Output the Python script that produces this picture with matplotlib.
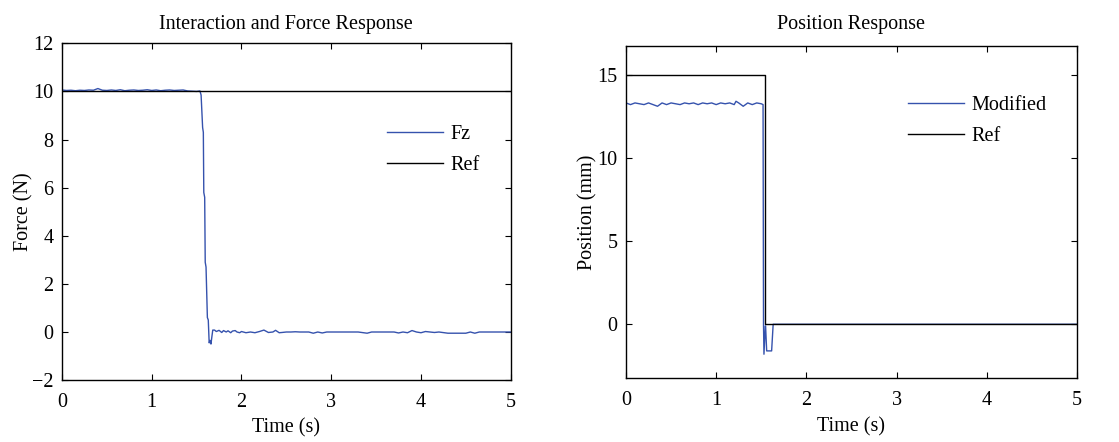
"""Force and position response plots (two panels)."""
import matplotlib
matplotlib.use("Agg")
import matplotlib.pyplot as plt
import numpy as np

plt.rcParams["font.family"] = ["Liberation Serif", "DejaVu Serif"]

C_BLUE = "#3552ad"
FS = 14.5

# ---- data: force panel ----
fz_t = [0.00, 0.05, 0.10, 0.15, 0.20, 0.25, 0.30, 0.35, 0.40, 0.45, 0.50,
        0.55, 0.60, 0.65, 0.70, 0.75, 0.80, 0.85, 0.90, 0.95, 1.00, 1.05,
        1.10, 1.15, 1.20, 1.25, 1.30, 1.35, 1.40, 1.45, 1.50, 1.537,
        1.55, 1.567, 1.575, 1.58, 1.59, 1.596, 1.605, 1.62, 1.63, 1.64,
        1.65, 1.66, 1.67, 1.68, 1.70, 1.72, 1.75, 1.78, 1.80, 1.83, 1.85,
        1.88, 1.90, 1.93, 1.95, 1.98, 2.00, 2.05, 2.10, 2.15, 2.20, 2.25,
        2.30, 2.35, 2.38, 2.42, 2.45, 2.50, 2.55, 2.60, 2.65, 2.70, 2.75,
        2.80, 2.85, 2.90, 2.95, 3.00, 3.10, 3.20, 3.30, 3.40, 3.45, 3.50,
        3.60, 3.70, 3.75, 3.80, 3.85, 3.90, 3.95, 4.00, 4.05, 4.10, 4.15,
        4.20, 4.30, 4.40, 4.50, 4.55, 4.60, 4.65, 4.70, 4.80, 4.90, 5.00]
fz_v = [10.06, 10.04, 10.05, 10.03, 10.05, 10.04, 10.06, 10.05, 10.12, 10.05,
        10.04, 10.06, 10.04, 10.07, 10.03, 10.05, 10.06, 10.04, 10.05, 10.07,
        10.04, 10.06, 10.03, 10.05, 10.06, 10.04, 10.05, 10.06, 10.02, 10.01,
        10.00, 10.02, 9.85, 8.5, 8.3, 5.8, 5.6, 2.9, 2.7, 0.6, 0.5, -0.45,
        -0.35, -0.5, -0.2, 0.08, 0.08, 0.02, 0.07, -0.02, 0.06, 0.0, 0.05,
        -0.03, 0.04, 0.06, 0.0, -0.03, 0.02, -0.03, 0.0, -0.03, 0.02, 0.08,
        -0.02, 0.0, 0.07, -0.03, -0.02, 0.0, 0.0, 0.01, 0.0, 0.0, 0.0,
        -0.05, 0.0, -0.04, 0.0, 0.0, 0.0, 0.0, 0.0, -0.05, 0.0, 0.0, 0.0,
        0.0, -0.04, 0.0, -0.03, 0.06, 0.0, -0.03, 0.02, 0.0, -0.02, 0.0,
        -0.05, -0.05, -0.05, 0.0, -0.05, 0.0, 0.0, 0.0, 0.0, 0.0]
fref_t = [0.0, 5.0]
fref_v = [10.0, 10.0]

# ---- data: position panel ----
pos_t = [0.00, 0.05, 0.10, 0.15, 0.20, 0.25, 0.30, 0.35, 0.40, 0.45, 0.50,
         0.55, 0.60, 0.65, 0.70, 0.75, 0.80, 0.85, 0.90, 0.95, 1.00, 1.05,
         1.10, 1.15, 1.20, 1.22, 1.25, 1.30, 1.35, 1.40, 1.45, 1.50, 1.52,
         1.525, 1.530, 1.545, 1.548, 1.560, 1.615, 1.632, 1.65, 5.00]
pos_v = [13.3, 13.2, 13.3, 13.25, 13.2, 13.3, 13.2, 13.1, 13.3, 13.2, 13.3,
         13.25, 13.2, 13.3, 13.25, 13.3, 13.2, 13.3, 13.25, 13.3, 13.2, 13.3,
         13.25, 13.3, 13.2, 13.4, 13.3, 13.1, 13.3, 13.2, 13.3, 13.25, 13.2,
         0.0, -1.8, -0.1, -0.1, -1.6, -1.6, 0.0, 0.0, 0.0]
pref_t = [0.0, 1.538, 1.538, 5.0]
pref_v = [15.0, 15.0, 0.0, 0.0]


def style_axes(ax):
    ax.tick_params(direction="in", top=True, right=True, length=4,
                   labelsize=FS, width=0.8, pad=9)
    for s in ax.spines.values():
        s.set_linewidth(1.0)


def legend(ax, x, y):
    ax.legend(loc="upper left", bbox_to_anchor=(x, y), frameon=False,
              fontsize=FS, handlelength=2.8, handletextpad=0.35,
              labelspacing=0.6, borderpad=0, borderaxespad=0)


fig = plt.figure(figsize=(11.19, 4.42), dpi=100)

# left panel
ax1 = fig.add_axes([0.0554, 0.140, 0.401, 0.762])
ax1.plot(fz_t, fz_v, color=C_BLUE, lw=1.0, label="Fz")
ax1.plot(fref_t, fref_v, color="black", lw=1.0, label="Ref")
ax1.set_xlim(0, 5)
ax1.set_ylim(-2, 12)
ax1.set_xticks(np.arange(0, 6, 1))
ax1.set_yticks(np.arange(-2, 13, 2))
ax1.set_yticklabels(["\u22122", "0", "2", "4", "6", "8", "10", "12"])
ax1.set_xlabel("Time (s)", fontsize=FS, labelpad=5)
ax1.set_ylabel("Force (N)", fontsize=FS, labelpad=-1)
ax1.set_title("Interaction and Force Response", fontsize=FS, pad=10)
style_axes(ax1)
ax1.tick_params(axis="y", pad=6)
legend(ax1, 0.724, 0.757)

# right panel
ax2 = fig.add_axes([0.5594, 0.144, 0.403, 0.753])
ax2.plot(pos_t, pos_v, color=C_BLUE, lw=1.0, label="Modified")
ax2.plot(pref_t, pref_v, color="black", lw=1.0, label="Ref")
ax2.set_xlim(0, 5)
ax2.set_ylim(-3.25, 16.75)
ax2.set_xticks(np.arange(0, 6, 1))
ax2.set_yticks([0, 5, 10, 15])
ax2.set_xlabel("Time (s)", fontsize=FS, labelpad=5)
ax2.set_ylabel("Position (mm)", fontsize=FS, labelpad=0)
ax2.set_title("Position Response", fontsize=FS, pad=12)
style_axes(ax2)
ax2.tick_params(axis="y", pad=6)
legend(ax2, 0.625, 0.848)

plt.savefig("out.png", dpi=100)
